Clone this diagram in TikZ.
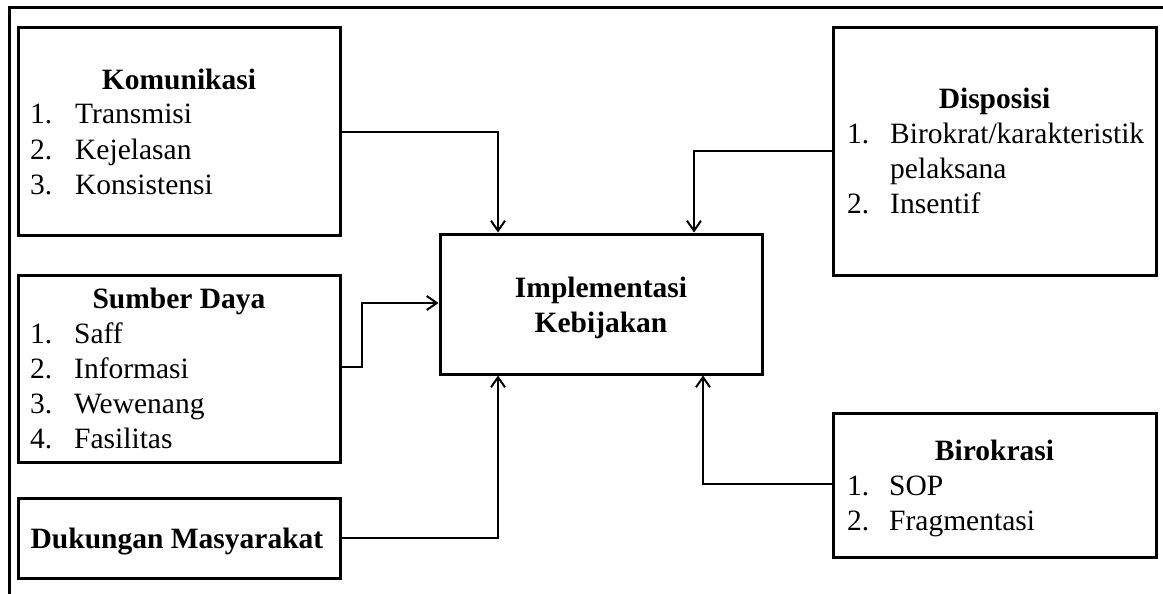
\documentclass[tikz,border=0pt]{standalone}
\usepackage{fontspec}
\setmainfont{Liberation Serif}
\usetikzlibrary{arrows.meta}
\begin{document}
\begin{tikzpicture}[x=1pt,y=-1pt,
  box/.style={draw, line width=3pt, rectangle, inner sep=0pt},
  txt/.style={inner sep=0pt, font=\fontsize{29.5pt}{35pt}\selectfont},
  ttl/.style={txt, anchor=base, font=\fontsize{29.5pt}{35pt}\selectfont\bfseries},
  num/.style={txt, anchor=base west},
  arr/.style={line width=2pt, -{Straight Barb[length=10pt,width=14pt]}},
  ln/.style={line width=2pt}]
\useasboundingbox (0,0) rectangle (1163,594);
% frame
\draw[line width=3pt] (9,594) -- (9,8) -- (1163,8);
% boxes
\node[box, minimum width=322pt, minimum height=207pt] (kom) at (179,131.5) {};
\node[box, minimum width=322pt, minimum height=187pt] (sd) at (179,368.5) {};
\node[box, minimum width=322pt, minimum height=80pt] (dm) at (179,538) {};
\node[box, minimum width=322pt, minimum height=140pt] (impl) at (601,304) {};
\node[box, minimum width=323pt, minimum height=247pt] (dis) at (994.5,151.5) {};
\node[box, minimum width=323pt, minimum height=144pt] (bir) at (994.5,485) {};
% Komunikasi
\node[ttl] (komt) at (179,90) {Komunikasi};
\node[num] (k1n) at (30,124) {1.};
\node[num] (k1t) at (75,124) {Transmisi};
\node[num] (k2n) at (30,159) {2.};
\node[num] (k2t) at (75,159) {Kejelasan};
\node[num] (k3n) at (30,194) {3.};
\node[num] (k3t) at (75,194) {Konsistensi};
% Sumber Daya
\node[ttl] (sdt) at (179,308) {Sumber Daya};
\node[num] (s1n) at (30,343) {1.};
\node[num] (s1t) at (74,343) {Saff};
\node[num] (s2n) at (30,378) {2.};
\node[num] (s2t) at (74,378) {Informasi};
\node[num] (s3n) at (30,413) {3.};
\node[num] (s3t) at (74,413) {Wewenang};
\node[num] (s4n) at (30,448) {4.};
\node[num] (s4t) at (74,448) {Fasilitas};
% Dukungan
\node[ttl] (dmt) at (177,548) {Dukungan Masyarakat};
% Implementasi
\node[ttl] (it1) at (601,297) {Implementasi};
\node[ttl] (it2) at (601,332) {Kebijakan};
% Disposisi
\node[ttl] (dist) at (994.5,108) {Disposisi};
\node[num] (d1n) at (847,143) {1.};
\node[num] (d1t) at (890,143) {Birokrat/karakteristik};
\node[num] (d1u) at (890,178) {pelaksana};
\node[num] (d2n) at (847,213) {2.};
\node[num] (d2t) at (890,213) {Insentif};
% Birokrasi
\node[ttl] (birt) at (994.5,460) {Birokrasi};
\node[num] (b1n) at (847,495) {1.};
\node[num] (b1t) at (889,495) {SOP};
\node[num] (b2n) at (847,530) {2.};
\node[num] (b2t) at (889,530) {Fragmentasi};
% connector anchor coordinates
\coordinate (kout) at (0,132);
\coordinate (kin) at (498,0);
\coordinate (sdout) at (0,367);
\coordinate (sdin) at (0,303);
\coordinate (dmout) at (0,538);
\coordinate (disout) at (0,151);
\coordinate (disin) at (694,0);
\coordinate (birout) at (0,484);
\coordinate (birin) at (703,0);
% connectors
\draw[arr] (kom.east |- kout) -| (impl.north -| kin);
\draw[arr] (sd.east |- sdout) -- ++(20,0) |- (impl.west |- sdin);
\draw[arr] (dm.east |- dmout) -| (impl.south -| kin);
\draw[arr] (dis.west |- disout) -| (impl.north -| disin);
\draw[arr] (bir.west |- birout) -| (impl.south -| birin);
\end{tikzpicture}
\end{document}
